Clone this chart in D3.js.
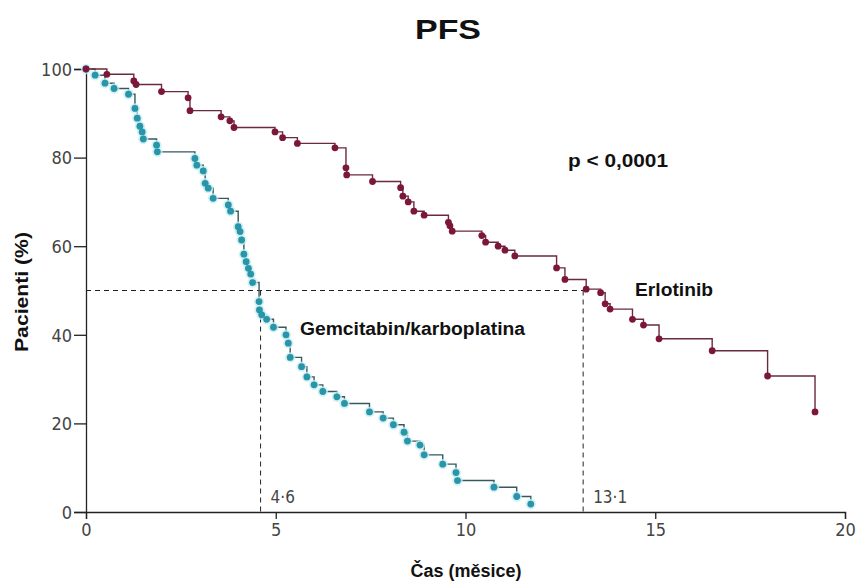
<!DOCTYPE html>
<html>
<head>
<meta charset="utf-8">
<script src="https://cdn.jsdelivr.net/npm/d3@7"></script>
<style>
  body { margin: 0; background: #fff; }
  .tick text { font-family: "Liberation Sans Narrow", "DejaVu Sans Condensed", sans-serif; }
  .bold { font-family: "Liberation Sans", Arial, sans-serif; font-weight: bold; fill: #111; }
</style>
</head>
<body>
<svg id="Vis" width="859" height="581"></svg>
<script>
/*
* DATA
*/

// Erlotinib: [months, % patients]
const erlotinib = [
  [0, 100], [0.55, 98.8], [1.26, 97.3], [1.32, 96.5], [1.99, 94.9], [2.69, 93.5],
  [2.74, 90.6], [3.56, 89.2], [3.79, 88.3], [3.9, 86.8], [4.98, 85.8], [5.18, 84.5],
  [5.57, 83.2], [6.56, 82.2], [6.85, 77.7], [6.87, 76.1], [7.55, 74.6], [8.29, 73.2],
  [8.35, 71.3], [8.49, 70.0], [8.64, 67.9], [8.91, 67.0], [9.55, 65.4], [9.59, 64.6],
  [9.65, 63.4], [10.43, 62.4], [10.53, 60.9], [10.86, 60.0], [11.04, 59.1], [11.3, 57.8],
  [12.4, 55.1], [12.62, 52.5], [13.18, 50.3], [13.56, 49.5], [13.68, 47.0], [13.81, 45.8],
  [14.4, 43.5], [14.69, 42.2], [15.1, 39.1], [16.5, 36.4], [17.96, 30.7], [19.21, 22.6]
];

// Gemcitabin/karboplatina: [months, % patients]
const gemcitabin = [
  [0, 100], [0.24, 98.6], [0.5, 96.8], [0.74, 95.6], [1.12, 94.3], [1.29, 91.1],
  [1.35, 88.9], [1.42, 87.1], [1.48, 85.8], [1.51, 84.2], [1.86, 82.8], [1.88, 81.3],
  [2.87, 79.8], [2.92, 78.3], [3.09, 77.0], [3.14, 74.2], [3.22, 73.1], [3.35, 70.8],
  [3.75, 69.3], [3.81, 67.9], [4.01, 64.4], [4.06, 63.3], [4.1, 61.4], [4.16, 58.2],
  [4.22, 56.5], [4.28, 55.0], [4.34, 53.7], [4.39, 51.8], [4.56, 47.5], [4.57, 45.6],
  [4.63, 44.5], [4.76, 43.5], [4.94, 41.7], [5.27, 40.0], [5.33, 38.1], [5.38, 34.9],
  [5.68, 32.8], [5.82, 30.5], [6.01, 28.7], [6.24, 27.2], [6.61, 26.0], [6.81, 24.5],
  [7.47, 22.6], [7.83, 21.2], [8.1, 19.7], [8.38, 18.0], [8.47, 16.0], [8.8, 15.1],
  [8.91, 12.9], [9.4, 10.8], [9.75, 8.9], [9.79, 7.1], [10.75, 5.6], [11.35, 3.5],
  [11.72, 1.8]
];

const xTicks = [0, 5, 10, 15, 20];
const yTicks = [0, 20, 40, 60, 80, 100];
const medians = [4.6, 13.1];
const medianLabels = ["4·6", "13·1"];

/*
* SETUP
*/

const svg = d3.select("svg#Vis");

const x = d3.scaleLinear().domain([0, 20]).range([86, 845]);
const y = d3.scaleLinear().domain([0, 100]).range([512, 69]);

const colors = {
  erloDot: "#7c1739",
  erloLine: "#6a2a3d",
  gemDot: "#2895a8",
  gemLine: "#36595f",
  gemHalo: "#c9eef3"
};

/*
* AXES
*/

const xAxis = svg.append("g")
  .attr("transform", "translate(0," + y(0) + ")")
  .call(d3.axisBottom(x).tickValues(xTicks).tickSize(7).tickPadding(4));

const yAxis = svg.append("g")
  .attr("transform", "translate(" + x(0) + ",0)")
  .call(d3.axisLeft(y).tickValues(yTicks).tickSize(12).tickPadding(2));

[xAxis, yAxis].forEach(a => {
  a.select(".domain").attr("stroke", "#222").attr("stroke-width", 1.3);
  a.selectAll(".tick line").attr("stroke", "#222").attr("stroke-width", 1.3);
  a.selectAll(".tick text").attr("fill", "#444").style("font-size", "18px");
});
yAxis.selectAll(".tick text").attr("dy", "0.35em");

/*
* MEDIAN GUIDES
*/

const guides = svg.append("g")
  .attr("stroke", "#222")
  .attr("stroke-width", 1)
  .attr("stroke-dasharray", "5,4")
  .attr("fill", "none");

guides.append("line")
  .attr("x1", x(0)).attr("x2", x(medians[1]))
  .attr("y1", y(50)).attr("y2", y(50));

medians.forEach(m => {
  guides.append("line")
    .attr("x1", x(m)).attr("x2", x(m))
    .attr("y1", y(50)).attr("y2", y(0));
});

svg.selectAll("text.median")
  .data(medians)
  .join("text")
  .attr("class", "median")
  .attr("x", d => x(d) + 10)
  .attr("y", y(0) - 9)
  .attr("fill", "#444")
  .style("font-family", "'Liberation Sans Narrow', 'DejaVu Sans Condensed', sans-serif")
  .style("font-size", "17px")
  .text((d, i) => medianLabels[i]);

/*
* CURVES
*/

const step = d3.line()
  .x(d => x(d[0]))
  .y(d => y(d[1]))
  .curve(d3.curveStepAfter);

function drawCurve(data, lineColor, dotColor, halo) {
  const grp = svg.append("g");
  grp.append("path")
    .datum(data)
    .attr("d", step)
    .attr("fill", "none")
    .attr("stroke", lineColor)
    .attr("stroke-width", 1.4);
  if (halo) {
    grp.selectAll("circle.halo")
      .data(data)
      .join("circle")
      .attr("class", "halo")
      .attr("cx", d => x(d[0]))
      .attr("cy", d => y(d[1]))
      .attr("r", 5.2)
      .attr("fill", halo)
      .attr("opacity", 0.8);
  }
  grp.selectAll("circle.dot")
    .data(data)
    .join("circle")
    .attr("class", "dot")
    .attr("cx", d => x(d[0]))
    .attr("cy", d => y(d[1]))
    .attr("r", 3.4)
    .attr("fill", dotColor);
}

drawCurve(gemcitabin, colors.gemLine, colors.gemDot, colors.gemHalo);
drawCurve(erlotinib, colors.erloLine, colors.erloDot, null);

/*
* TEXT
*/

// label helper: size sets the height, len stretches to the width seen
function label(txt, px, py, size, len, anchor) {
  return svg.append("text").attr("class", "bold")
    .attr("x", px).attr("y", py)
    .attr("text-anchor", anchor || "start")
    .attr("textLength", len)
    .attr("lengthAdjust", "spacingAndGlyphs")
    .style("font-size", size + "px")
    .text(txt);
}

label("PFS", 448, 39, 28, 66, "middle");
label("p < 0,0001", 568, 167, 18, 100);
label("Erlotinib", 635, 296, 19, 78);
label("Gemcitabin/karboplatina", 300, 335, 18, 225);
label("Čas (měsice)", 466, 577, 18, 111, "middle");
label("Pacienti (%)", 0, 0, 19, 120, "middle")
  .attr("transform", "translate(28,292) rotate(-90)");
</script>
</body>
</html>
